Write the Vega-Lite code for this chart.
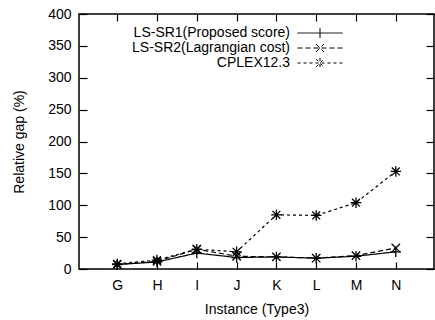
{
  "$schema": "https://vega.github.io/schema/vega-lite/v6.json",
  "autosize": "none",
  "width": 355,
  "height": 255,
  "padding": {"left": 79, "top": 14, "right": 1, "bottom": 51},
  "background": "white",
  "config": {
    "font": "Liberation Sans",
    "view": {"stroke": "black", "strokeWidth": 1.5},
    "axis": {"domain": false, "grid": false, "labelFont": "Liberation Sans", "titleFont": "Liberation Sans", "labelFontSize": 14, "titleFontSize": 14, "titleFontWeight": "normal", "labelColor": "black", "titleColor": "black", "tickColor": "black", "tickWidth": 1.2}
  },
  "data": {"values": [
    {"instance": "G", "series": "LS-SR1(Proposed score)", "gap": 7},
    {"instance": "H", "series": "LS-SR1(Proposed score)", "gap": 11},
    {"instance": "I", "series": "LS-SR1(Proposed score)", "gap": 25},
    {"instance": "J", "series": "LS-SR1(Proposed score)", "gap": 18},
    {"instance": "K", "series": "LS-SR1(Proposed score)", "gap": 19},
    {"instance": "L", "series": "LS-SR1(Proposed score)", "gap": 17},
    {"instance": "M", "series": "LS-SR1(Proposed score)", "gap": 20},
    {"instance": "N", "series": "LS-SR1(Proposed score)", "gap": 27},
    {"instance": "G", "series": "LS-SR2(Lagrangian cost)", "gap": 7},
    {"instance": "H", "series": "LS-SR2(Lagrangian cost)", "gap": 12},
    {"instance": "I", "series": "LS-SR2(Lagrangian cost)", "gap": 31},
    {"instance": "J", "series": "LS-SR2(Lagrangian cost)", "gap": 20},
    {"instance": "K", "series": "LS-SR2(Lagrangian cost)", "gap": 19},
    {"instance": "L", "series": "LS-SR2(Lagrangian cost)", "gap": 17},
    {"instance": "M", "series": "LS-SR2(Lagrangian cost)", "gap": 21},
    {"instance": "N", "series": "LS-SR2(Lagrangian cost)", "gap": 33},
    {"instance": "G", "series": "CPLEX12.3", "gap": 8},
    {"instance": "H", "series": "CPLEX12.3", "gap": 14},
    {"instance": "I", "series": "CPLEX12.3", "gap": 31},
    {"instance": "J", "series": "CPLEX12.3", "gap": 27},
    {"instance": "K", "series": "CPLEX12.3", "gap": 85},
    {"instance": "L", "series": "CPLEX12.3", "gap": 84},
    {"instance": "M", "series": "CPLEX12.3", "gap": 104},
    {"instance": "N", "series": "CPLEX12.3", "gap": 153}
  ]},
  "resolve": {"axis": {"x": "independent", "y": "independent"}},
  "layer": [
    {
      "mark": {"type": "line", "color": "black", "strokeWidth": 1.2},
      "encoding": {
        "x": {"field": "instance", "type": "ordinal", "scale": {"type": "point", "padding": 0.96}, "axis": {"orient": "bottom", "title": "Instance (Type3)", "labelAngle": 0, "tickSize": -7, "labelPadding": 16, "titlePadding": 10}},
        "y": {"field": "gap", "type": "quantitative", "scale": {"domain": [0, 400], "nice": false}, "axis": {"orient": "left", "title": "Relative gap (%)", "values": [0, 50, 100, 150, 200, 250, 300, 350, 400], "tickSize": -8, "labelPadding": 16, "titlePadding": 21}},
        "strokeDash": {
          "field": "series", "type": "nominal",
          "sort": ["LS-SR1(Proposed score)", "LS-SR2(Lagrangian cost)", "CPLEX12.3"],
          "scale": {"domain": ["LS-SR1(Proposed score)", "LS-SR2(Lagrangian cost)", "CPLEX12.3"], "range": [[1, 0], [5, 3], [3, 3]]},
          "legend": {
            "orient": "none", "legendX": 234, "legendY": 12, "title": null,
            "symbolType": "M-4.5,0H4.5M0,-1V1", "symbolSize": 100, "symbolStrokeColor": "black", "symbolStrokeWidth": 1, "symbolFillColor": "transparent",
            "labelFont": "Liberation Sans", "labelFontSize": 14, "labelColor": "black", "labelAlign": "right", "labelOffset": -37, "rowPadding": 1,
            "encode": {"symbols": {"update": {"shape": {"signal": "datum.value == 'LS-SR1(Proposed score)' ? 'M-4.5,0H4.5M0,-1V1' : datum.value == 'LS-SR2(Lagrangian cost)' ? 'M-4.5,0H4.5M-0.8,-0.8L0.8,0.8M-0.8,0.8L0.8,-0.8' : 'M-4.5,0H4.5M-0.75,-0.75L0.75,0.75M-0.75,0.75L0.75,-0.75M0,-1V1'"}}}}
          }
        }
      }
    },
    {
      "transform": [{"filter": "datum.series == 'LS-SR1(Proposed score)'"}],
      "mark": {"type": "point", "filled": false, "color": "black", "strokeWidth": 1.3, "opacity": 1, "size": 110, "shape": "M-1,0H1M0,-1V1"},
      "encoding": {
        "x": {"field": "instance", "type": "ordinal", "scale": {"type": "point", "padding": 0.96}, "axis": {"orient": "top", "title": null, "labels": false, "tickSize": -7}},
        "y": {"field": "gap", "type": "quantitative", "scale": {"domain": [0, 400], "nice": false}, "axis": {"orient": "right", "title": null, "labels": false, "values": [0, 50, 100, 150, 200, 250, 300, 350, 400], "tickSize": -8}}
      }
    },
    {
      "transform": [{"filter": "datum.series == 'LS-SR2(Lagrangian cost)'"}],
      "mark": {"type": "point", "filled": false, "color": "black", "strokeWidth": 1.3, "opacity": 1, "size": 110, "shape": "M-0.8,-0.8L0.8,0.8M-0.8,0.8L0.8,-0.8"},
      "encoding": {
        "x": {"field": "instance", "type": "ordinal", "axis": null},
        "y": {"field": "gap", "type": "quantitative", "axis": null}
      }
    },
    {
      "transform": [{"filter": "datum.series == 'CPLEX12.3'"}],
      "mark": {"type": "point", "filled": false, "color": "black", "strokeWidth": 1.3, "opacity": 1, "size": 110, "shape": "M-1,0H1M0,-1V1M-0.75,-0.75L0.75,0.75M-0.75,0.75L0.75,-0.75"},
      "encoding": {
        "x": {"field": "instance", "type": "ordinal", "axis": null},
        "y": {"field": "gap", "type": "quantitative", "axis": null}
      }
    }
  ]
}
